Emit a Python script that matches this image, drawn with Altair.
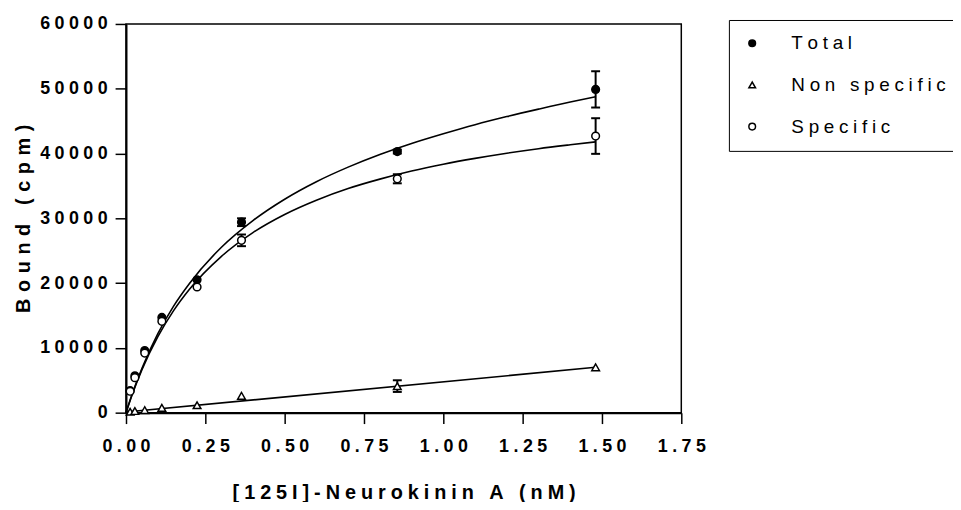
import altair as alt
import pandas as pd

# ---- data ----
series_names = ["Total", "Non specific", "Specific"]

conc = [0.013, 0.028, 0.059, 0.113, 0.224, 0.364, 0.855, 1.48]
total = [3400, 5700, 9600, 14700, 20500, 29400, 40300, 49900]
total_err = [0, 0, 0, 0, 0, 600, 300, 2800]
nonspec = [150, 250, 400, 750, 1150, 2600, 4100, 7000]
nonspec_err = [0, 0, 0, 0, 0, 0, 900, 0]
specific = [3300, 5400, 9200, 14100, 19400, 26600, 36100, 42700]
specific_err = [0, 0, 0, 0, 0, 900, 700, 2750]

curve_x = [0, 0.02, 0.05, 0.1, 0.15, 0.2, 0.3, 0.4, 0.5, 0.6, 0.7, 0.8, 0.9,
           1.0, 1.1, 1.2, 1.3, 1.4, 1.48]
curve_total = [0, 2950, 6800, 12150, 16450, 19950, 25500, 29650, 32950, 35650,
               37900, 39850, 41550, 43050, 44450, 45700, 46850, 47950, 48750]
curve_specific = [0, 2850, 6600, 11700, 15750, 19050, 24100, 27800, 30600, 32800,
                  34600, 36050, 37300, 38350, 39250, 40050, 40750, 41350, 41800]
ns_x = [0, 1.48]
ns_line = [100, 7000]

x_ticks = [0, 0.25, 0.5, 0.75, 1.0, 1.25, 1.5, 1.75]
y_ticks = [0, 10000, 20000, 30000, 40000, 50000, 60000]

x_title_text = "[125I]-Neurokinin A (nM)"
y_title_text = "Bound (cpm)"

# ---- tables ----
rows = []
for name, vals, errs in [("Total", total, total_err),
                         ("Non specific", nonspec, nonspec_err),
                         ("Specific", specific, specific_err)]:
    for c, v, e in zip(conc, vals, errs):
        rows.append({"series": name, "x": c, "y": v, "err": e,
                     "lo": v - e, "hi": v + e})
pts = pd.DataFrame(rows)

lrows = []
for c, v in zip(curve_x, curve_total):
    lrows.append({"series": "Total", "x": c, "y": v})
for c, v in zip(curve_x, curve_specific):
    lrows.append({"series": "Specific", "x": c, "y": v})
for c, v in zip(ns_x, ns_line):
    lrows.append({"series": "Non specific", "x": c, "y": v})
lines_df = pd.DataFrame(lrows)

SP4 = "\u2005"   # four-per-em space (letter spacing)
SP3 = "\u2004"   # three-per-em space
x_title = SP4.join(list(x_title_text))
y_title = SP3.join(list(y_title_text))

FONT = "Liberation Sans"

xs = alt.Scale(domain=[0, 1.75], nice=False)
ys = alt.Scale(domain=[0, 60000], nice=False)

x_axis = alt.Axis(values=x_ticks, labelFlush=False,
                  labelExpr="join(split(format(datum.value, '.2f'), ''), '\u2005')",
                  labelPadding=14, titlePadding=28)
y_axis = alt.Axis(values=y_ticks, labelFlush=False,
                  labelExpr="join(split(format(datum.value, 'd'), ''), '\u2005')",
                  labelPadding=8, titlePadding=6)


def X(field="x"):
    return alt.X(f"{field}:Q", scale=xs, axis=x_axis, title=x_title)


def Y(field="y"):
    return alt.Y(f"{field}:Q", scale=ys, axis=y_axis, title=y_title)


lines = alt.Chart(lines_df).mark_line(
    color="black", strokeWidth=1.6, interpolate="monotone"
).encode(x=X(), y=Y(), detail="series:N")

err_df = alt.Chart(pts).transform_filter("datum.err > 0")
err_rules = err_df.mark_rule(color="black", strokeWidth=2).encode(
    x=X(), y=Y("lo"), y2="hi:Q")
cap_lo = err_df.mark_tick(orient="horizontal", size=9, thickness=2,
                          color="black", opacity=1).encode(x=X(), y=Y("lo"))
cap_hi = err_df.mark_tick(orient="horizontal", size=9, thickness=2,
                          color="black", opacity=1).encode(x=X(), y=Y("hi"))

legend = alt.Legend(
    title=None, orient="none", legendX=608, legendY=-4,
    strokeColor="black", padding=14, rowPadding=22,
    symbolSize=45, symbolStrokeColor="black", symbolStrokeWidth=1.5,
    labelFont=FONT, labelFontSize=19, labelFontWeight="normal",
    labelColor="black", labelOffset=30, labelLimit=400,
    labelExpr="join(split(datum.label, ''), '\u2005')",
)

shape_scale = alt.Scale(domain=series_names, range=["circle", "triangle-up", "circle"])
fill_scale = alt.Scale(domain=series_names, range=["black", "white", "white"])
stroke_scale = alt.Scale(domain=series_names, range=["black", "black", "black"])

points = alt.Chart(pts).mark_point(
    size=60, filled=True, strokeWidth=1.5, opacity=1, fillOpacity=1
).encode(
    x=X(), y=Y(),
    shape=alt.Shape("series:N", scale=shape_scale, legend=legend),
    fill=alt.Fill("series:N", scale=fill_scale, legend=legend),
    stroke=alt.Stroke("series:N", scale=stroke_scale, legend=legend),
)

chart = alt.layer(lines, err_rules, cap_lo, cap_hi, points).properties(
    width=560, height=392,
    autosize=alt.AutoSizeParams(type="none"),
    padding={"left": 119, "top": 14, "right": 274, "bottom": 88},
).configure_view(
    stroke="black", strokeWidth=1.5
).configure_axis(
    grid=False,
    domainColor="black", domainWidth=2,
    tickColor="black", tickSize=11, tickWidth=1.5,
    labelFont=FONT, labelFontSize=18, labelFontWeight="bold", labelColor="black",
    titleFont=FONT, titleFontSize=20, titleFontWeight="bold", titleColor="black",
)

chart.save("out.html", embed_options={"renderer": "svg", "actions": False})
